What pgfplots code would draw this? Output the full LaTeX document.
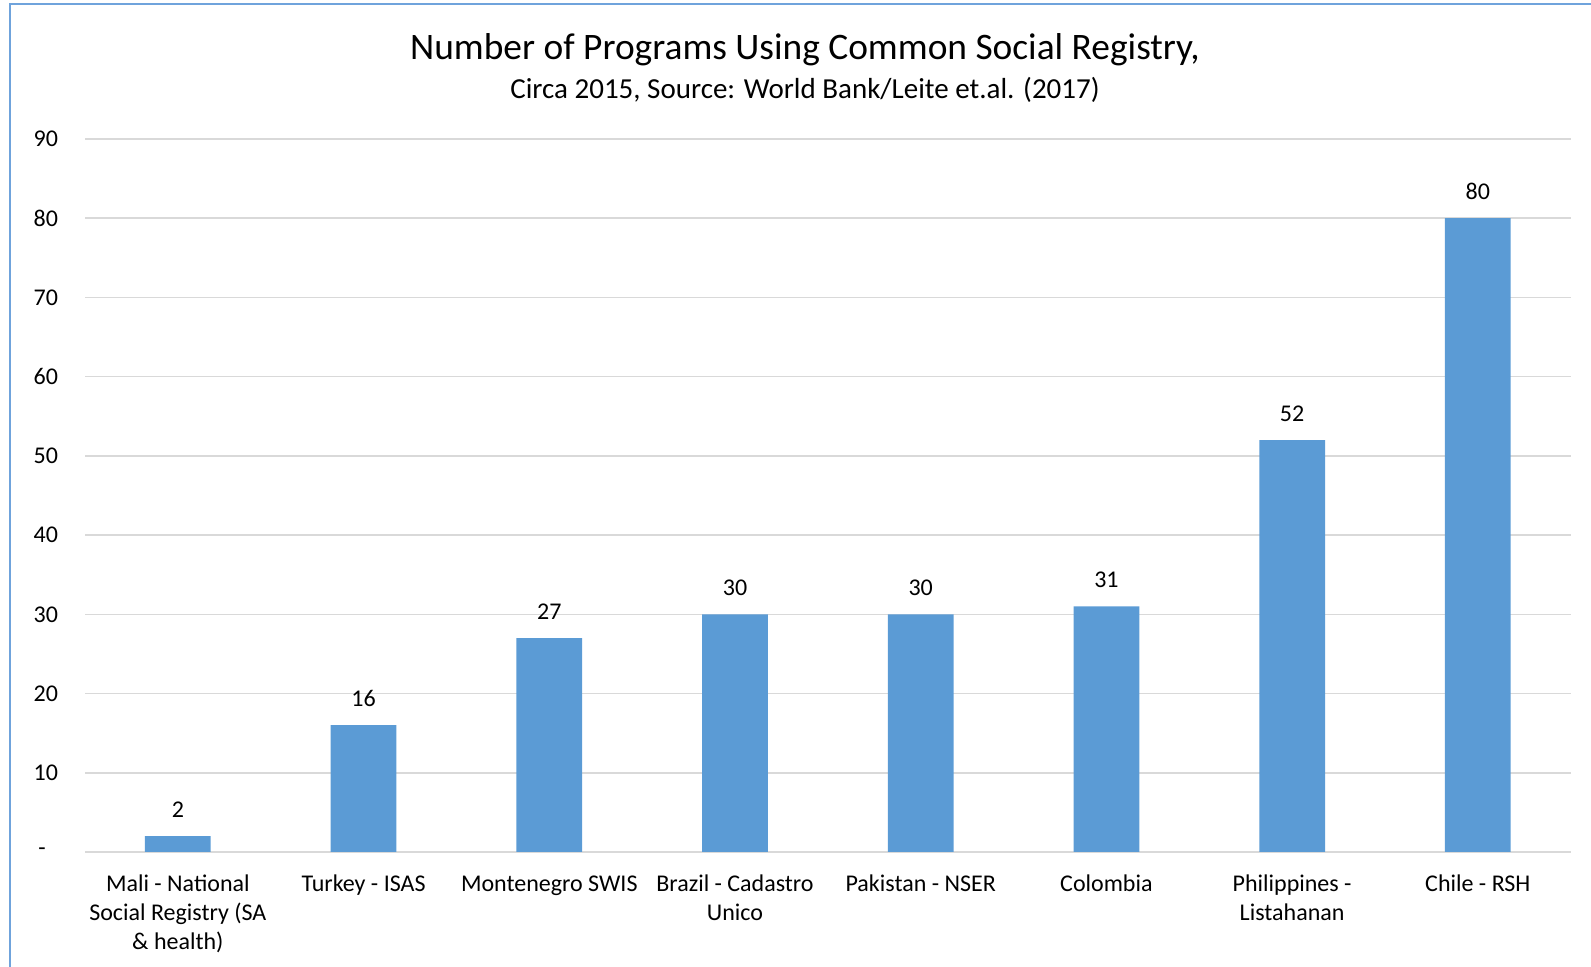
\documentclass[border=0pt]{standalone}
\usepackage{pgfplots}
\pgfplotsset{compat=1.18}
\usepackage{fontspec}
\setmainfont{Carlito}
\definecolor{barblue}{HTML}{5B9BD5}
\definecolor{gridgray}{HTML}{D9D9D9}
\definecolor{frameblue}{HTML}{6FA3DC}
\begin{document}
\begin{tikzpicture}
\useasboundingbox (0,0) rectangle (795.5pt,483.5pt);
\draw[frameblue, line width=1pt] (5pt,0) -- (5pt,481.5pt) -- (795.5pt,481.5pt);
\node[font=\fontsize{18.7}{22}\selectfont] at (402.5pt,458.5pt) {Number of Programs Using Common Social Registry,};
\node[font=\fontsize{14.5}{17}\selectfont] at (402.5pt,438.5pt) {Circa 2015, Source: World Bank/Leite et.al. (2017)};
\begin{axis}[
  at={(42.5pt,57.5pt)}, anchor=south west,
  scale only axis, width=742.85pt, height=356.5pt,
  xmin=-0.5, xmax=7.5, ymin=0, ymax=90,
  ybar, bar width=0.354,
  axis line style={draw=none},
  major tick length=0pt,
  ymajorgrids, grid style={gridgray, line width=0.8pt},
  ytick={0,10,...,90},
  yticklabels={-\hphantom{0},10,20,30,40,50,60,70,80,90},
  yticklabel style={font=\fontsize{12}{14}\selectfont, xshift=-10pt},
  xtick=data,
  xticklabels={{\strut Mali - National\\Social Registry (SA\\\& health)},{\strut Turkey - ISAS},{\strut Montenegro SWIS},{\strut Brazil - Cadastro\\Unico},{\strut Pakistan - NSER},{\strut Colombia},{\strut Philippines -\\Listahanan},{\strut Chile - RSH}},
  xticklabel style={align=center, font=\fontsize{12}{14.5}\selectfont, yshift=-6pt},
  /pgf/number format/assume math mode=true,
  nodes near coords,
  every node near coord/.append style={font=\fontsize{12}{14}\selectfont, anchor=south, inner sep=0pt, yshift=9pt, black},
  clip=false,
]
\addplot[fill=barblue, draw=none] coordinates {(0,2) (1,16) (2,27) (3,30) (4,30) (5,31) (6,52) (7,80)};
\end{axis}
\end{tikzpicture}
\end{document}
